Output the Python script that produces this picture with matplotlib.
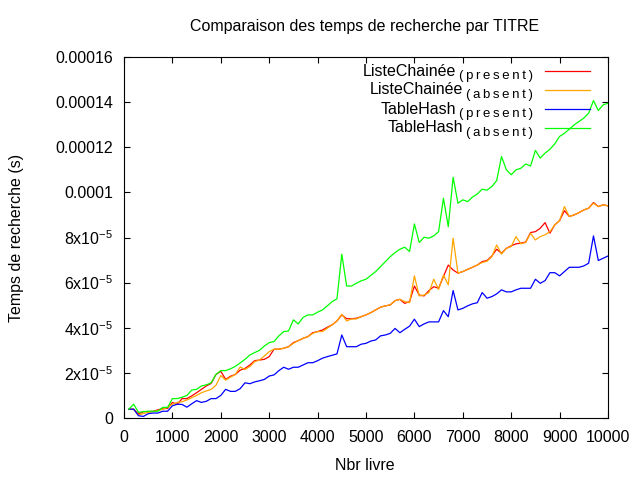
import numpy as np
import matplotlib
matplotlib.use('Agg')
import matplotlib.pyplot as plt

plt.rcParams['font.family'] = ['Liberation Sans', 'DejaVu Sans']
plt.rcParams['mathtext.fontset'] = 'custom'
plt.rcParams['mathtext.rm'] = 'Liberation Sans'
plt.rcParams['mathtext.it'] = 'Liberation Sans'

# Nombre de livres (100 .. 10000)
nbr_livre = np.arange(100, 10001, 100)

# Temps de recherche, en unites de 1e-5 s
liste_present = [
    0.39, 0.39, 0.18, 0.28, 0.28, 0.30, 0.36, 0.42, 0.42, 0.69,
    0.60, 0.86, 0.86, 0.98, 1.12, 1.27, 1.42, 1.53, 1.93, 2.07,
    1.71, 1.85, 1.93, 2.12, 2.20, 2.35, 2.54, 2.57, 2.60, 2.72,
    3.05, 3.05, 3.09, 3.16, 3.34, 3.43, 3.53, 3.61, 3.78, 3.83,
    3.90, 4.02, 4.13, 4.30, 4.57, 4.40, 4.40, 4.42, 4.49, 4.57,
    4.67, 4.79, 4.91, 4.97, 5.01, 5.20, 5.26, 5.08, 5.16, 5.85,
    5.45, 5.41, 5.65, 5.82, 5.75, 6.27, 6.78, 6.56, 6.42, 6.49,
    6.59, 6.68, 6.78, 6.93, 6.98, 7.18, 7.48, 7.30, 7.52, 7.63,
    7.72, 7.75, 7.80, 8.22, 8.26, 8.41, 8.66, 8.19, 8.56, 8.75,
    9.19, 8.93, 9.00, 9.10, 9.22, 9.30, 9.55, 9.37, 9.45, 9.40,
]
liste_absent = [
    0.39, 0.39, 0.13, 0.20, 0.25, 0.28, 0.32, 0.39, 0.47, 0.61,
    0.69, 0.72, 0.80, 0.90, 1.00, 1.12, 1.20, 1.27, 1.45, 1.88,
    1.68, 1.81, 1.93, 2.26, 2.15, 2.28, 2.50, 2.57, 2.75, 2.94,
    3.05, 3.05, 3.09, 3.16, 3.31, 3.43, 3.53, 3.61, 3.75, 3.83,
    3.83, 3.98, 4.13, 4.30, 4.60, 4.30, 4.39, 4.39, 4.49, 4.57,
    4.67, 4.79, 4.91, 4.97, 5.01, 5.20, 5.26, 5.16, 5.11, 6.30,
    5.41, 5.45, 5.56, 6.15, 5.70, 6.34, 5.90, 7.97, 6.42, 6.49,
    6.59, 6.68, 6.78, 6.89, 6.95, 7.15, 7.67, 7.27, 7.52, 7.60,
    8.04, 7.72, 7.78, 8.19, 7.89, 8.04, 8.12, 8.26, 8.56, 8.75,
    9.37, 8.93, 9.00, 9.10, 9.22, 9.30, 9.52, 9.37, 9.45, 9.40,
]
hash_present = [
    0.39, 0.39, 0.10, 0.07, 0.19, 0.22, 0.22, 0.30, 0.30, 0.54,
    0.61, 0.60, 0.48, 0.63, 0.77, 0.69, 0.74, 0.86, 0.86, 1.00,
    1.27, 1.18, 1.18, 1.30, 1.56, 1.52, 1.60, 1.65, 1.71, 1.86,
    1.91, 2.10, 2.25, 2.16, 2.25, 2.25, 2.35, 2.45, 2.45, 2.54,
    2.65, 2.72, 2.78, 2.84, 3.68, 3.16, 3.16, 3.16, 3.27, 3.31,
    3.41, 3.46, 3.64, 3.68, 3.75, 3.97, 3.78, 3.93, 4.07, 4.38,
    4.05, 4.17, 4.26, 4.26, 4.26, 4.76, 4.49, 5.65, 4.79, 4.86,
    4.97, 5.06, 5.11, 5.56, 5.31, 5.38, 5.50, 5.68, 5.59, 5.59,
    5.68, 5.75, 5.75, 5.75, 6.15, 5.97, 6.09, 6.44, 6.44, 6.30,
    6.49, 6.68, 6.68, 6.68, 6.74, 6.86, 8.07, 6.98, 7.08, 7.18,
]
hash_absent = [
    0.39, 0.61, 0.25, 0.28, 0.30, 0.30, 0.30, 0.47, 0.47, 0.86,
    0.86, 0.92, 1.00, 1.24, 1.27, 1.42, 1.47, 1.56, 1.93, 2.10,
    2.10, 2.18, 2.29, 2.44, 2.60, 2.79, 2.90, 3.00, 3.19, 3.34,
    3.39, 3.64, 3.83, 3.86, 4.35, 4.17, 4.46, 4.57, 4.57, 4.69,
    4.79, 4.97, 5.16, 5.28, 7.26, 5.85, 5.85, 5.97, 6.08, 6.15,
    6.32, 6.49, 6.71, 6.93, 7.15, 7.33, 7.48, 7.57, 7.38, 8.60,
    7.78, 8.01, 7.97, 8.07, 8.26, 9.74, 8.48, 10.67, 9.52, 9.67,
    9.59, 9.79, 9.93, 10.14, 10.10, 10.26, 10.52, 11.59, 11.00, 10.78,
    11.00, 11.07, 11.26, 11.17, 11.86, 11.52, 11.74, 11.91, 12.15, 12.48,
    12.62, 12.80, 12.99, 13.14, 13.29, 13.51, 14.07, 13.63, 13.88, 13.95,
]

series_names = ['ListeChainée', 'ListeChainée', 'TableHash', 'TableHash']
series_subs = ['(present)', '(absent)', '(present)', '(absent)']
series_colors = ['#ff0000', '#ffa500', '#0000ff', '#00ff00']

y_ticks = [0, 2e-5, 4e-5, 6e-5, 8e-5, 1e-4, 1.2e-4, 1.4e-4, 1.6e-4]
y_tick_labels = ['0', '2x10$^{-5}$', '4x10$^{-5}$', '6x10$^{-5}$', '8x10$^{-5}$',
                 '0.0001', '0.00012', '0.00014', '0.00016']
x_ticks = list(range(0, 10001, 1000))

fig = plt.figure(figsize=(6.4, 4.8), dpi=100)
ax = fig.add_axes([124 / 640, 1 - 418 / 480, 484 / 640, 361 / 480])

all_series = [liste_present, liste_absent, hash_present, hash_absent]
for vals, col in zip(all_series, series_colors):
    ax.plot(nbr_livre, np.array(vals) * 1e-5, color=col, lw=0.9)

ax.set_xlim(0, 10000)
ax.set_ylim(0, 1.6e-4)
ax.set_xticks(x_ticks)
ax.set_xticklabels([str(t) for t in x_ticks])
ax.set_yticks(y_ticks)
ax.set_yticklabels(y_tick_labels)
ax.tick_params(direction='in', length=4.5, width=0.8, top=True, right=True,
               labelsize=11.5, pad=8)
ax.tick_params(axis='x', pad=9)
for sp in ax.spines.values():
    sp.set_linewidth(0.8)

fig.text(365 / 640, 1 - 27 / 480, 'Comparaison des temps de recherche par TITRE',
         ha='center', va='center', fontsize=11.5)
fig.text(365 / 640, 1 - 466 / 480, 'Nbr livre', ha='center', va='center', fontsize=11.5)
fig.text(17 / 640, 1 - 238 / 480, 'Temps de recherche (s)', ha='center', va='center',
         rotation=90, fontsize=11.5)

# legende a la gnuplot
renderer = fig.canvas.get_renderer()
for i in range(4):
    yrow = 71 + 19 * i
    sub = fig.text(533 / 640, 1 - (yrow + 5) / 480, '\u2009'.join(series_subs[i]),
                   ha='right', va='center', fontsize=9.5)
    bb = sub.get_window_extent(renderer)
    fig.text((bb.x0 - 3) / 640, 1 - yrow / 480, series_names[i],
             ha='right', va='center', fontsize=11.5)
    fig.add_artist(plt.Line2D([545 / 640, 590 / 640], [1 - yrow / 480, 1 - yrow / 480],
                              color=series_colors[i], lw=0.9))

fig.savefig('out.png', dpi=100)
